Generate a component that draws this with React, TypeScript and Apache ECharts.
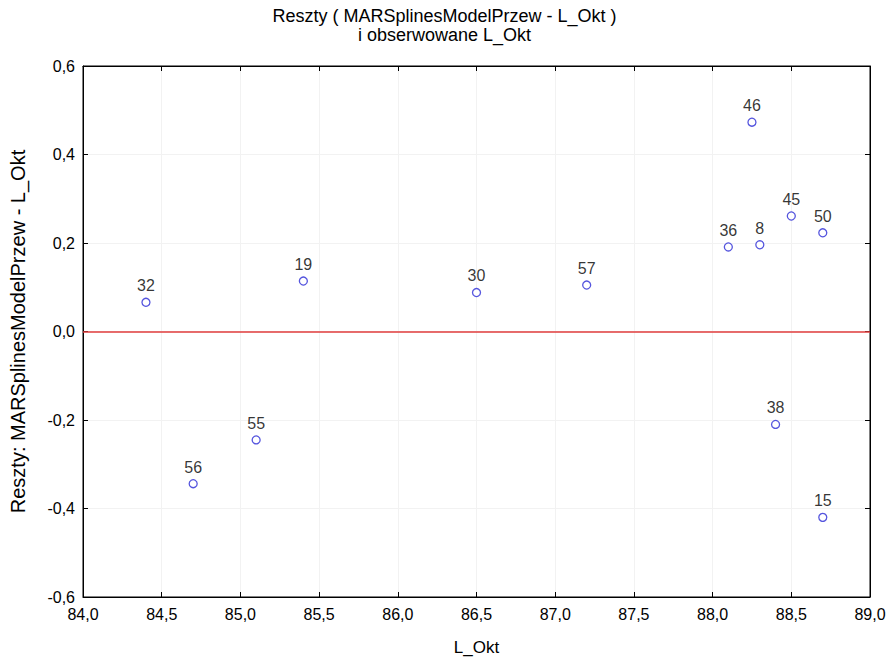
import React, { useEffect, useRef } from "react";
import * as echarts from "echarts";

const ids = ["32", "56", "55", "19", "30", "57", "36", "46", "8", "38", "45", "50", "15"];
const xValues = [84.4, 84.7, 85.1, 85.4, 86.5, 87.2, 88.1, 88.25, 88.3, 88.4, 88.5, 88.7, 88.7];
const yValues = [0.066, -0.344, -0.245, 0.114, 0.088, 0.105, 0.191, 0.473, 0.196, -0.21, 0.261, 0.223, -0.42];
const titleLines = ["Reszty ( MARSplinesModelPrzew - L_Okt )", "i obserwowane L_Okt"];
const xName = "L_Okt";
const yName = "Reszty: MARSplinesModelPrzew - L_Okt";

const fmt = (v: number) => (Math.abs(v) < 1e-9 ? 0 : v).toFixed(1).replace(".", ",");
const FONT = "Liberation Sans, Arial, sans-serif";

export default function App() {
  const ref = useRef<HTMLDivElement>(null);
  useEffect(() => {
    if (!ref.current) return;
    const chart = echarts.init(ref.current, null, { renderer: "svg" });
    const data = xValues.map((x, i) => [x, yValues[i], ids[i]]);
    const gridLine = { show: true, lineStyle: { color: "#f2f2f2", width: 1 } };
    const frameLine = { show: true, onZero: false, lineStyle: { color: "#000" } };
    const innerTick = { show: true, inside: true, length: 5, lineStyle: { color: "#000" } };
    chart.setOption({
      animation: false,
      backgroundColor: "#ffffff",
      textStyle: { fontFamily: FONT },
      title: {
        text: titleLines.join("\n"),
        left: "center",
        top: 1,
        textStyle: { fontSize: 18, fontWeight: "normal", color: "#000", lineHeight: 19, fontFamily: FONT },
      },
      grid: { left: 83, right: 19, top: 66, bottom: 61, show: true, borderColor: "#000", borderWidth: 1 },
      xAxis: [
        {
          type: "value",
          min: 84,
          max: 89,
          interval: 0.5,
          name: xName,
          nameLocation: "middle",
          nameGap: 42,
          nameTextStyle: { fontSize: 17, color: "#000", fontFamily: FONT },
          axisLine: frameLine,
          axisTick: innerTick,
          axisLabel: { formatter: fmt, fontSize: 16, color: "#000", margin: 9, fontFamily: FONT },
          splitLine: gridLine,
        },
        {
          type: "value",
          position: "top",
          min: 84,
          max: 89,
          interval: 0.5,
          axisLine: frameLine,
          axisTick: innerTick,
          axisLabel: { show: false },
          splitLine: { show: false },
        },
      ],
      yAxis: [
        {
          type: "value",
          min: -0.6,
          max: 0.6,
          interval: 0.2,
          name: yName,
          nameLocation: "middle",
          nameGap: 55,
          nameTextStyle: { fontSize: 20, color: "#000", fontFamily: FONT },
          axisLine: frameLine,
          axisTick: innerTick,
          axisLabel: { formatter: fmt, fontSize: 16, color: "#000", margin: 8, fontFamily: FONT },
          splitLine: gridLine,
        },
        {
          type: "value",
          position: "right",
          min: -0.6,
          max: 0.6,
          interval: 0.2,
          axisLine: frameLine,
          axisTick: innerTick,
          axisLabel: { show: false },
          splitLine: { show: false },
        },
      ],
      series: [
        {
          type: "scatter",
          xAxisIndex: 0,
          yAxisIndex: 0,
          data,
          symbol: "circle",
          symbolSize: 8,
          itemStyle: { color: "#ffffff", borderColor: "#2b2bd6", borderWidth: 1.3 },
          label: {
            show: true,
            position: "top",
            distance: 4,
            formatter: (p: any) => p.data[2],
            fontSize: 16,
            color: "#000",
            fontFamily: FONT,
          },
          markLine: {
            silent: true,
            symbol: "none",
            label: { show: false },
            lineStyle: { color: "#e03c3c", width: 1.5, type: "solid" },
            data: [{ yAxis: 0 }],
          },
          z: 5,
        },
      ],
    });
    return () => chart.dispose();
  }, []);
  return <div ref={ref} style={{ width: 889, height: 661, position: "absolute", left: 0, top: 0 }} />;
}
